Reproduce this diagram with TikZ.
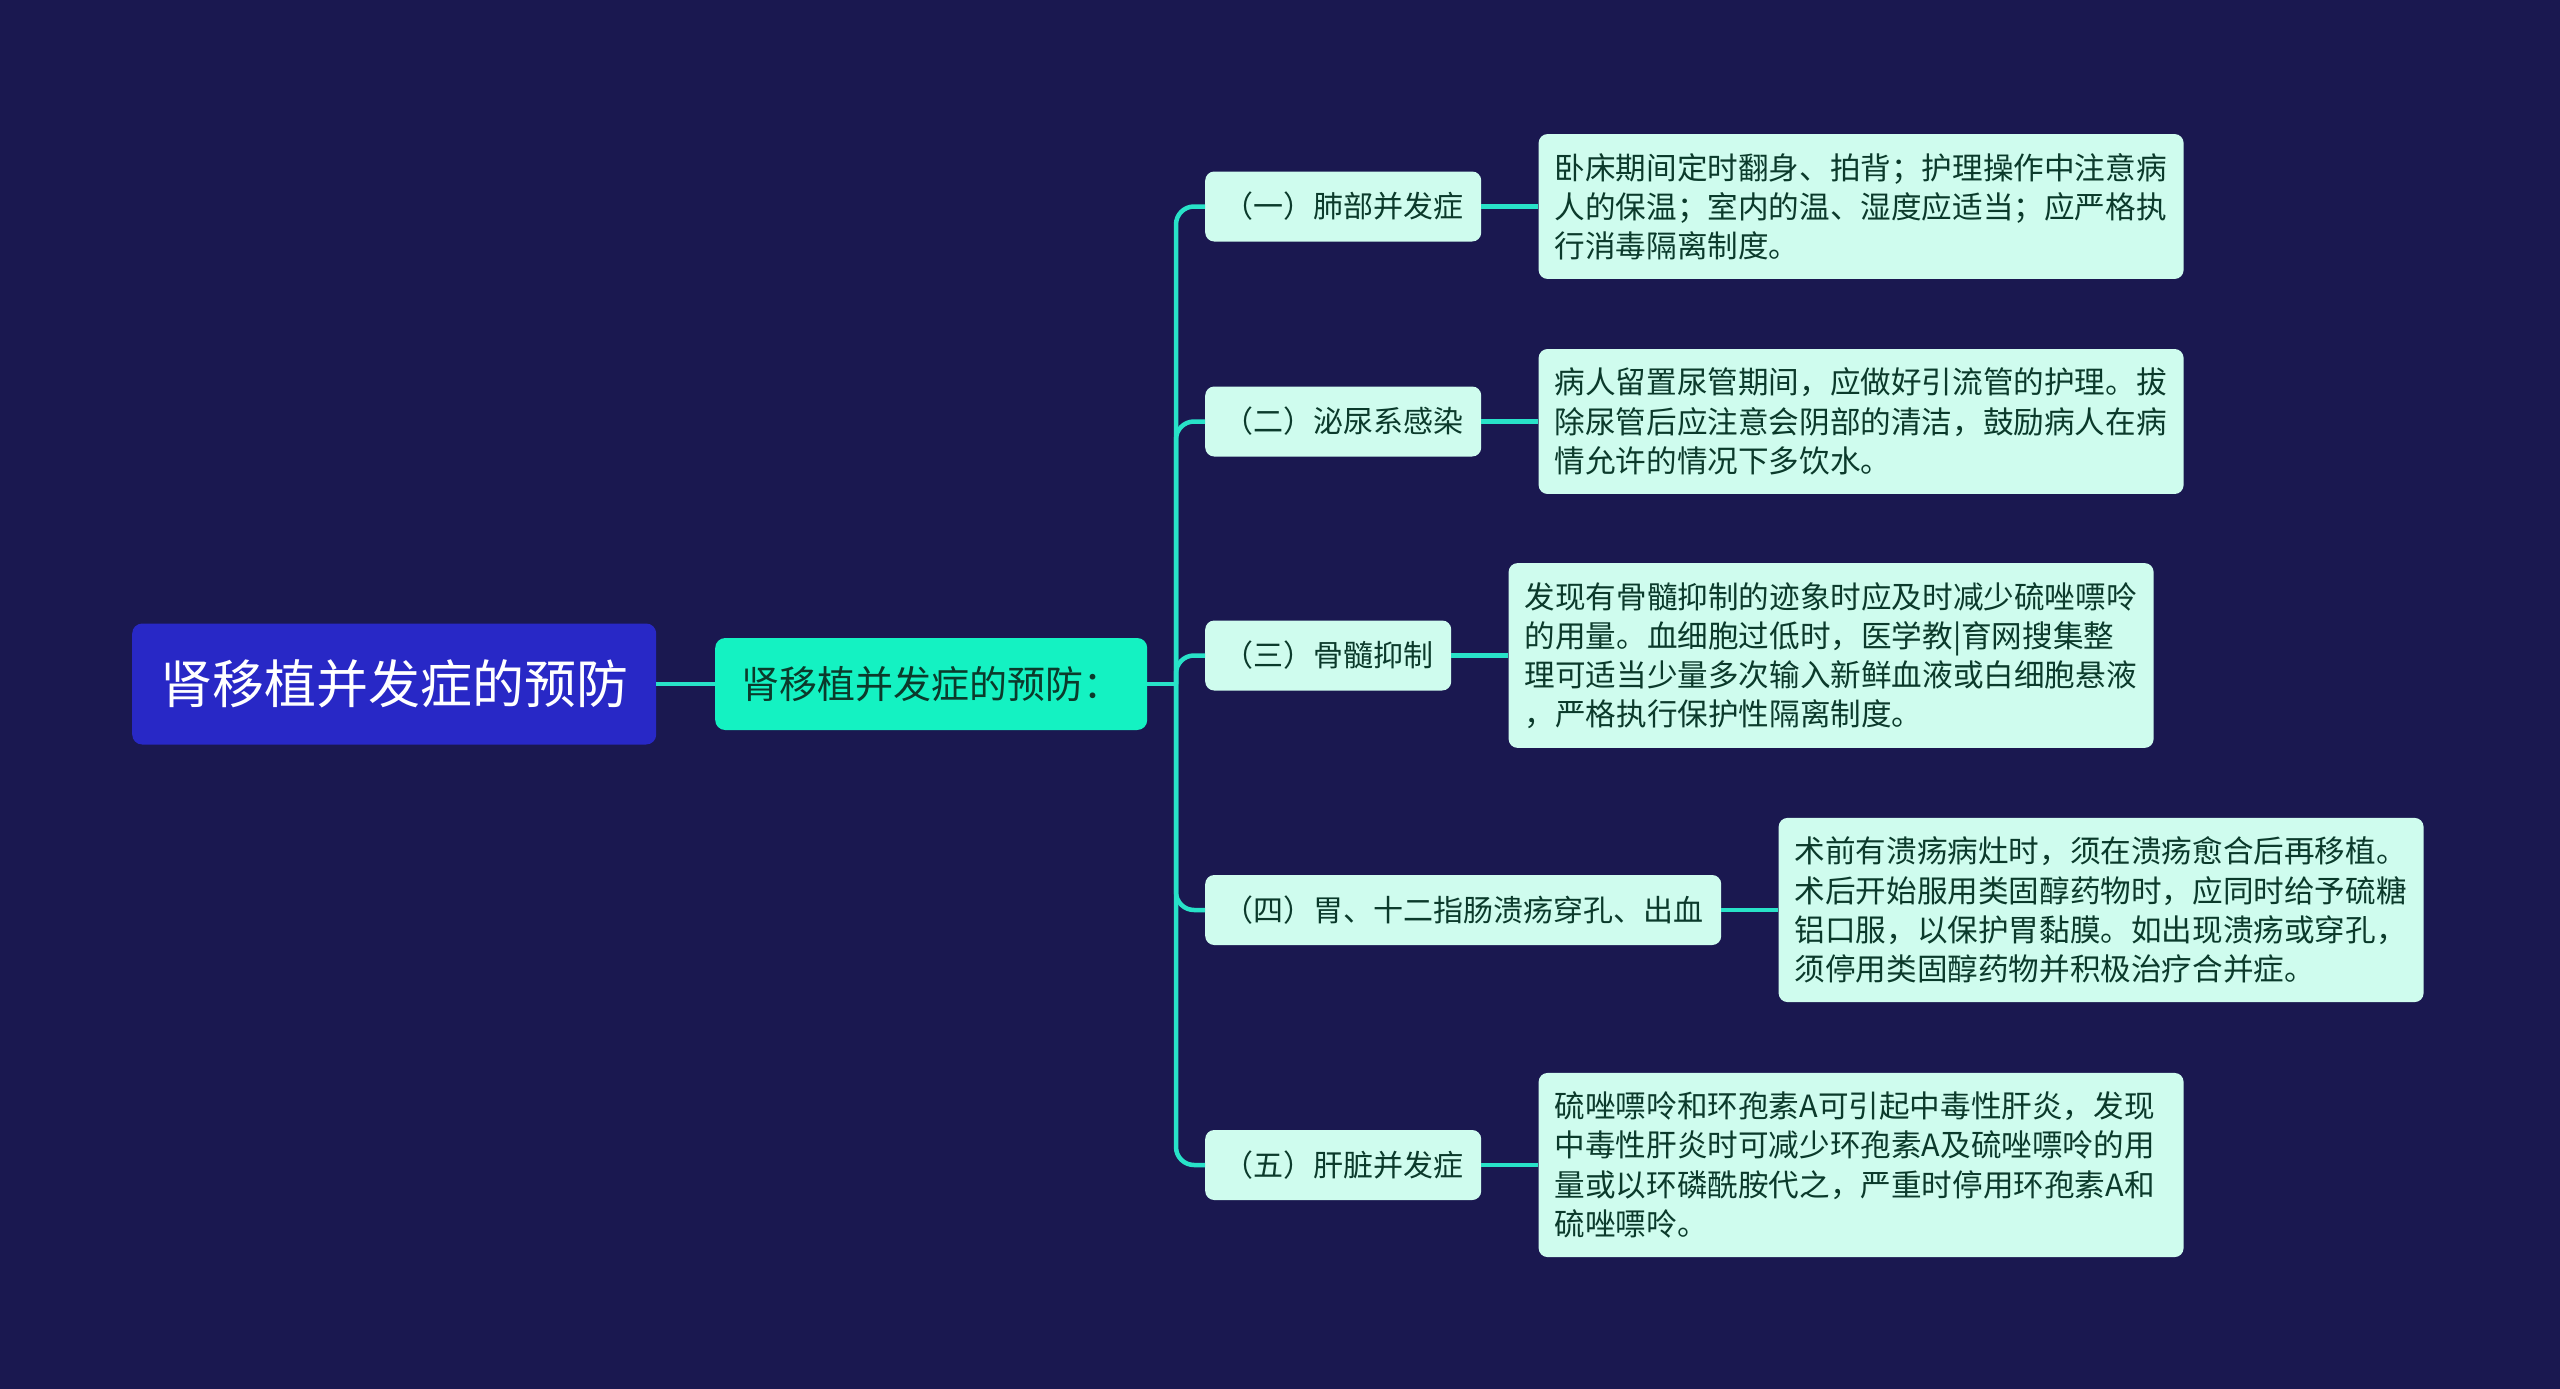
\documentclass[tikz,border=0pt]{standalone}
\usepackage{fontspec}
\usetikzlibrary{positioning}
\newfontfamily\cjk{Noto Sans CJK SC}
\definecolor{bgnavy}{HTML}{1A1850}
\definecolor{rootblue}{HTML}{2828C6}
\definecolor{topicgreen}{HTML}{14F2C2}
\definecolor{submint}{HTML}{CFFCEE}
\definecolor{textgreen}{HTML}{0B3A2B}
\definecolor{linecyan}{HTML}{28E2C8}

\begin{document}
\begin{tikzpicture}[x=1pt,y=-1pt,
  root/.style={fill=rootblue,rounded corners=10pt,text=white,inner xsep=28pt,minimum height=121pt,
    font=\cjk\fontsize{52}{60}\selectfont},
  topic/.style={fill=topicgreen,rounded corners=10pt,text=textgreen,inner xsep=26pt,minimum height=92pt,
    font=\cjk\fontsize{38}{44}\selectfont},
  sub/.style={fill=submint,rounded corners=9pt,text=textgreen,inner xsep=18pt,minimum height=70pt,
    font=\cjk\fontsize{30}{36}\selectfont},
  note/.style={fill=submint,rounded corners=9pt,text=textgreen,inner xsep=16pt,inner ysep=19pt,
    text width=613pt,align=left,font=\cjk\fontsize{30.6}{39.2}\selectfont},
  conn/.style={draw=linecyan,line width=4.5pt}]
\fill[bgnavy] (0,0) rectangle (2560,1389);
\node[root,anchor=west] (R) at (132,684) {肾移植并发症的预防};
\node[topic,anchor=west] (T) at (715,684) {肾移植并发症的预防：};
\coordinate (hub) at (1176,684);
\foreach \i/\y/\lab/\txt in {
  1/206.5/{（一）肺部并发症}/{卧床期间定时翻身、拍背；护理操作中注意病\\人的保温；室内的温、湿度应适当；应严格执\\行消毒隔离制度。},
  2/421.5/{（二）泌尿系感染}/{病人留置尿管期间，应做好引流管的护理。拔\\除尿管后应注意会阴部的清洁，鼓励病人在病\\情允许的情况下多饮水。},
  3/655.5/{（三）骨髓抑制}/{发现有骨髓抑制的迹象时应及时减少硫唑嘌呤\\的用量。血细胞过低时，医学教|育网搜集整\\理可适当少量多次输入新鲜血液或白细胞悬液\\，严格执行保护性隔离制度。},
  4/910/{（四）胃、十二指肠溃疡穿孔、出血}/{术前有溃疡病灶时，须在溃疡愈合后再移植。\\术后开始服用类固醇药物时，应同时给予硫糖\\铝口服，以保护胃黏膜。如出现溃疡或穿孔，\\须停用类固醇药物并积极治疗合并症。},
  5/1165/{（五）肝脏并发症}/{硫唑嘌呤和环孢素A可引起中毒性肝炎，发现\\中毒性肝炎时可减少环孢素A及硫唑嘌呤的用\\量或以环磷酰胺代之，严重时停用环孢素A和\\硫唑嘌呤。}}{
  \node[sub,anchor=west] (C\i) at (1205,\y) {\lab};
  \node[note,right=57pt of C\i] (N\i) {\txt};
}
% trunk and branches
\draw[conn] (R) -- (T);
\draw[conn] (T) -- (hub);
\foreach \i in {1,...,5}{
  \draw[conn,rounded corners=18pt] (hub) |- (C\i);
  \draw[conn] (C\i) -- (N\i);
}
\end{tikzpicture}
\end{document}
